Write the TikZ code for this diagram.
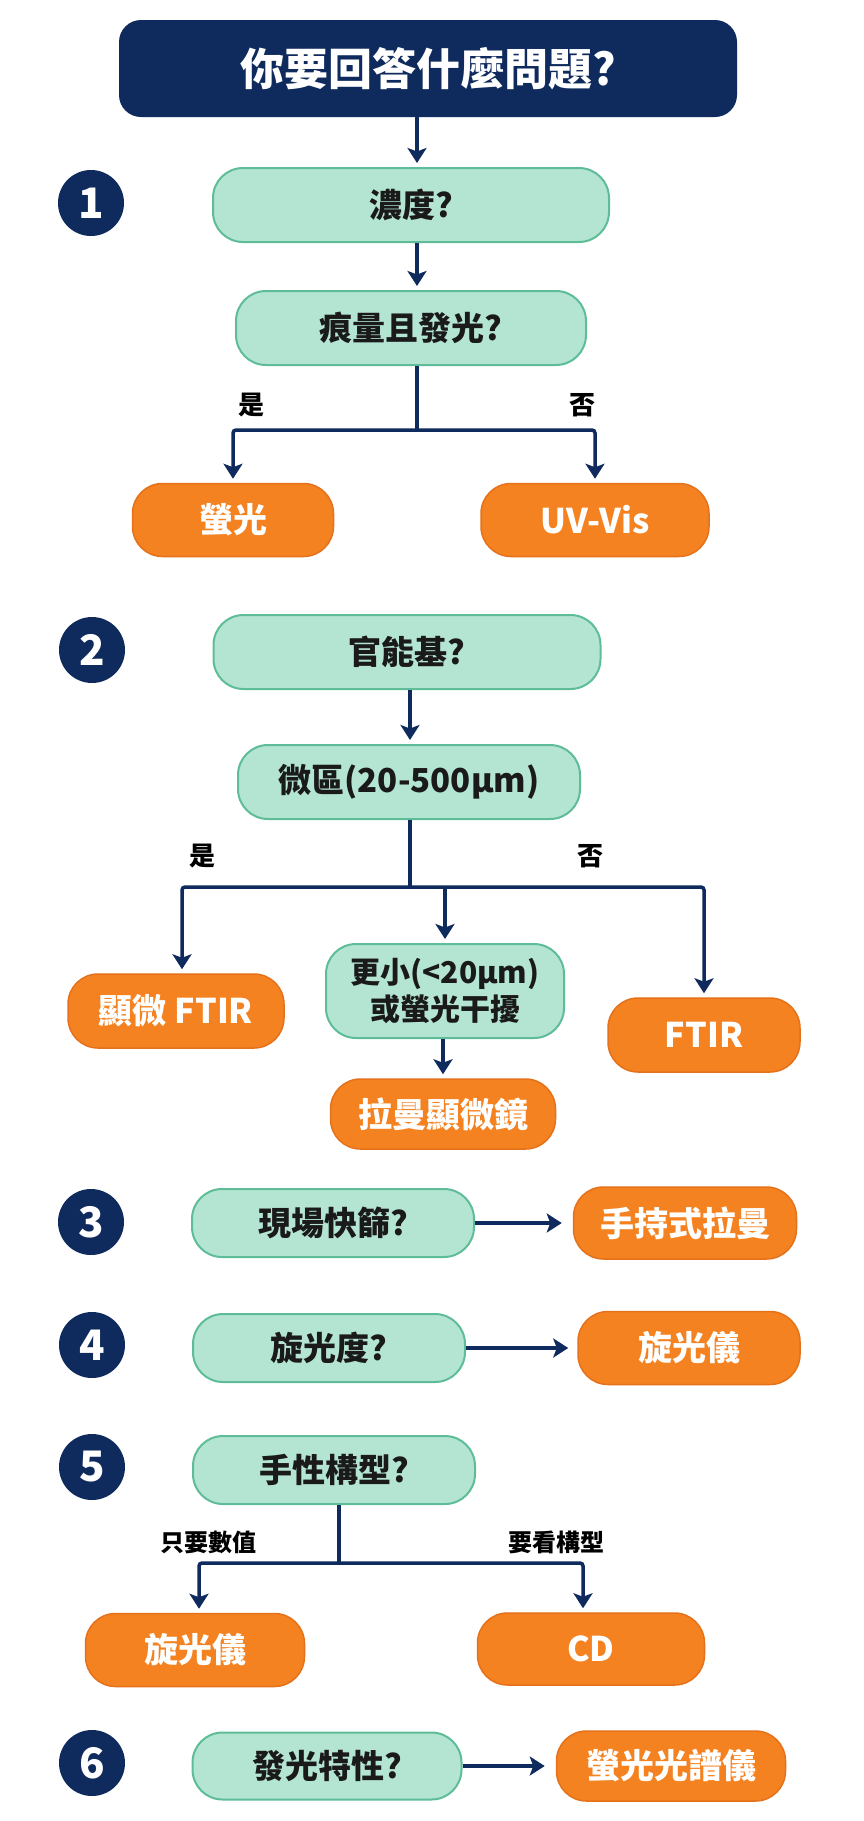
\documentclass[tikz,border=0pt]{standalone}
\usepackage{fontspec}
\setmainfont{Noto Sans CJK TC}
\usetikzlibrary{arrows.meta,calc}
\definecolor{navy}{HTML}{0F2A5C}
\definecolor{mintfill}{HTML}{B4E5D3}
\definecolor{mintborder}{HTML}{5EBD98}
\definecolor{orangefill}{HTML}{F58220}
\definecolor{orangeborder}{HTML}{E5711B}
\definecolor{textdark}{HTML}{1A1A1A}
\begin{document}
\begin{tikzpicture}[x=1pt,y=-1pt,
  titlebox/.style={fill=navy, rounded corners=22pt, text=white, inner sep=0pt,
    font=\fontsize{44}{48}\selectfont\bfseries},
  qbox/.style={draw=mintborder, fill=mintfill, line width=2pt, rounded corners=30pt,
    text=textdark, inner sep=0pt, font=\fontsize{33}{40}\selectfont\bfseries},
  obox/.style={draw=orangeborder, fill=orangefill, line width=1.5pt, rounded corners=30pt,
    text=white, inner sep=0pt, font=\fontsize{34}{40}\selectfont\bfseries},
  numc/.style={circle, fill=navy, minimum size=66pt, inner sep=0pt, text=white,
    font=\fontsize{42}{42}\selectfont\bfseries},
  arr/.style={-{Stealth[length=15pt,width=19pt,inset=3.5pt]}, line width=3.5pt, draw=navy, shorten >=4pt},
  conn/.style={line width=3.5pt, draw=navy},
  lbl/.style={font=\fontsize{26}{30}\selectfont\bfseries, text=black, inner sep=0pt}]

\useasboundingbox (0,0) rectangle (864,1821);
\fill[white] (0,0) rectangle (864,1821);

% ---------- title ----------
\node[titlebox, minimum width=618pt, minimum height=97pt] (title) at (428,68.5) {你要回答什麼問題?};

% ---------- section 1 ----------
\node[numc] (n1) at (91,203) {1};
\node[qbox, minimum width=396pt, minimum height=74pt] (q1) at (411,205) {濃度?};
\node[qbox, minimum width=350pt, minimum height=74pt] (q2) at (411,328) {痕量且發光?};
\node[obox, minimum width=201pt, minimum height=73pt] (o1) at (233,520) {螢光};
\node[obox, minimum width=228pt, minimum height=73pt] (o2) at (595,520) {UV-Vis};
\node[lbl] (l1y) at (251,405) {是};
\node[lbl] (l1n) at (582,405) {否};

\coordinate (a1) at (417,0);
\coordinate (b1) at (417,430);
\draw[arr] (title.south -| a1) -- (q1.north -| a1);
\draw[arr] (q1.south -| a1) -- (q2.north -| a1);
\draw[conn] (q2.south -| b1) -- (b1);
\draw[arr, rounded corners=3pt] (b1) -| (o1.north);
\draw[arr, rounded corners=3pt] (b1) -| (o2.north);

% ---------- section 2 ----------
\node[numc] (n2) at (92,650) {2};
\node[qbox, minimum width=387pt, minimum height=74pt] (q3) at (407,652) {官能基?};
\node[qbox, minimum width=342pt, minimum height=74pt] (q4) at (409,782) {微區(20-500μm)};
\node[obox, minimum width=216pt, minimum height=74pt] (o3) at (176,1011) {顯微 FTIR};
\node[qbox, minimum width=238pt, minimum height=94pt, align=center,
  font=\fontsize{30}{37}\selectfont\bfseries] (q5) at (445,991) {更小(<20μm)\\或螢光干擾};
\node[obox, minimum width=192pt, minimum height=74pt] (o4) at (704,1035) {FTIR};
\node[obox, minimum width=225pt, minimum height=70pt] (o5) at (443,1114) {拉曼顯微鏡};
\node[lbl] (l2y) at (202,856) {是};
\node[lbl] (l2n) at (590,856) {否};

\coordinate (a2) at (410,0);
\coordinate (b2) at (410,887);
\draw[arr] (q3.south -| a2) -- (q4.north -| a2);
\draw[conn] (q4.south -| b2) -- (b2);
\draw[arr, rounded corners=3pt] (b2) -| ([xshift=6pt]o3.north);
\draw[arr, rounded corners=3pt] (b2) -| (o4.north);
\draw[arr] (b2 -| q5.north) -- (q5.north);
\draw[arr] (q5.south -| o5.north) -- (o5.north);

% ---------- section 3 ----------
\node[numc] (n3) at (91,1222) {3};
\node[qbox, minimum width=282pt, minimum height=68pt] (q6) at (333,1223) {現場快篩?};
\node[obox, minimum width=223pt, minimum height=72pt] (o6) at (685,1223) {手持式拉曼};
\draw[arr, shorten >=11pt] (q6.east) -- (o6.west);

% ---------- section 4 ----------
\node[numc] (n4) at (92,1345) {4};
\node[qbox, minimum width=272pt, minimum height=68pt] (q7) at (329,1348) {旋光度?};
\node[obox, minimum width=222pt, minimum height=73pt] (o7) at (689,1348) {旋光儀};
\draw[arr, shorten >=9pt] (q7.east) -- (o7.west);

% ---------- section 5 ----------
\node[numc] (n5) at (92,1467) {5};
\node[qbox, minimum width=282pt, minimum height=68pt] (q8) at (334,1470) {手性構型?};
\node[obox, minimum width=219pt, minimum height=73pt] (o8) at (195,1650) {旋光儀};
\node[obox, minimum width=227pt, minimum height=72pt] (o9) at (591,1649) {CD};
\node[lbl, font=\fontsize{24}{28}\selectfont\bfseries] (l5a) at (208,1542) {只要數值};
\node[lbl, font=\fontsize{24}{28}\selectfont\bfseries] (l5b) at (556,1542) {要看構型};

\coordinate (b5) at (339,1563);
\draw[conn] (q8.south -| b5) -- (b5);
\draw[arr, rounded corners=3pt] (b5) -| ([xshift=4pt]o8.north);
\draw[arr, rounded corners=3pt] (b5) -| ([xshift=-8pt]o9.north);

% ---------- section 6 ----------
\node[numc] (n6) at (92,1763) {6};
\node[qbox, minimum width=269pt, minimum height=67pt] (q9) at (327,1766) {發光特性?};
\node[obox, minimum width=229pt, minimum height=70pt] (o10) at (671,1766) {螢光光譜儀};
\draw[arr, shorten >=11pt] (q9.east) -- (o10.west);

\end{tikzpicture}
\end{document}
